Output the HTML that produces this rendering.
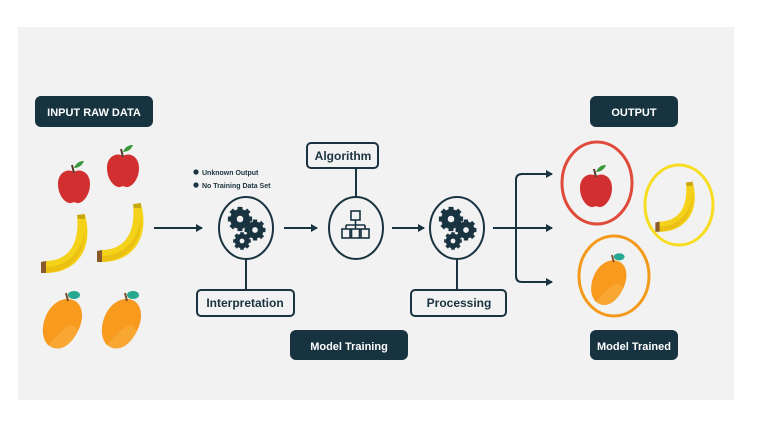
<!DOCTYPE html>
<html><head><meta charset="utf-8"><style>
html,body{margin:0;padding:0;background:#fff;width:760px;height:427px;overflow:hidden}
svg text{font-family:"Liberation Sans",sans-serif;font-weight:bold}
</style></head><body>
<svg width="760" height="427" viewBox="0 0 760 427" xmlns="http://www.w3.org/2000/svg">
<defs>
<marker id="ah" markerWidth="8" markerHeight="8" refX="6" refY="4" orient="auto" markerUnits="userSpaceOnUse"><path d="M0,0 L7,4 L0,8 Z" fill="#1a3340"/></marker>
<g id="apple"><path d="M0,-14 C-6,-18 -16,-14 -16,-2 C-16,10 -8,18 -3,17 C-1,16 1,16 3,17 C8,18 16,10 16,-2 C16,-14 6,-18 0,-14Z" fill="#d23030"/><path d="M0,-13 L-2,-21" stroke="#5a3a2a" stroke-width="2"/><path d="M0,-18 C3,-25 8,-25 10,-25 C8,-20 4,-18 0,-18Z" fill="#3a9a3a"/></g>
<g id="banana"><path d="M15,-30 C24,2 8,28 -24,28 L-25,16 C-2,16 10,0 7,-30Z" fill="#f4d21a"/><path d="M-25,22 C-4,22 12,8 15,-16 C16,6 4,26 -24,28Z" fill="#e8b810" opacity="0.7"/><path d="M7,-30 L15,-31 L15,-26 L8,-26Z" fill="#c8a810"/><path d="M-24,16 L-29,17 L-29,28 L-24,28Z" fill="#8a5a2a"/></g>
<g id="mango"><path d="M-18,22 C-30,10 -20,-22 0,-24 C16,-25 20,-8 12,8 C4,24 -8,30 -18,22Z" fill="#f89a1e"/><path d="M-18,22 C-4,8 6,-6 12,8 C4,24 -8,30 -18,22Z" fill="#f7b040" opacity="0.6"/><path d="M2,-22 L0,-30" stroke="#7a4a2a" stroke-width="2"/><ellipse cx="8" cy="-28" rx="6" ry="4" fill="#27a890"/></g>
<g id="gear"><circle r="6.5" fill="none" stroke="#1a3340" stroke-width="5"/><g stroke="#1a3340" stroke-width="4.5"><path d="M0,-11V11M-11,0H11M-8,-8L8,8M-8,8L8,-8"/></g><circle r="3" fill="#f2f2f2"/></g>
<g id="gears"><use href="#gear" transform="translate(-6,-9) scale(1.1)"/><use href="#gear" transform="translate(9,2) scale(0.95)"/><use href="#gear" transform="translate(-4,13) scale(0.8)"/></g>
</defs>
<rect x="18" y="27" width="716" height="373" fill="#f2f2f2"/>
<g fill="#173340">
<rect x="35" y="96" width="118" height="31" rx="6"/>
<rect x="590" y="96" width="88" height="31" rx="6"/>
<rect x="290" y="330" width="118" height="30" rx="6"/>
<rect x="590" y="330" width="88" height="30" rx="6"/>
</g>
<g fill="#fff" font-size="11" text-anchor="middle">
<text x="94" y="116">INPUT RAW DATA</text>
<text x="634" y="116">OUTPUT</text>
<text x="349" y="350">Model Training</text>
<text x="634" y="350">Model Trained</text>
</g>
<g fill="none" stroke="#1a3340" stroke-width="2">
<rect x="307" y="143" width="71" height="25" rx="4"/>
<rect x="197" y="290" width="97" height="26" rx="4"/>
<rect x="411" y="290" width="95" height="26" rx="4"/>
<ellipse cx="246" cy="228" rx="27" ry="31"/>
<ellipse cx="356" cy="228" rx="27" ry="31"/>
<ellipse cx="457" cy="228" rx="27" ry="31"/>
<path d="M246,259V290M356,168V197M457,259V290"/>
<path d="M154,228H202" marker-end="url(#ah)"/>
<path d="M284,228H317" marker-end="url(#ah)"/>
<path d="M392,228H424" marker-end="url(#ah)"/>
<path d="M493,228H552" marker-end="url(#ah)"/>
<path d="M552,174H522Q516,174 516,180V276Q516,282 522,282H552" marker-end="url(#ah)"/>
<path d="M522,174H552" marker-end="url(#ah)"/>
<rect x="351" y="211" width="9" height="9" stroke-width="1.6"/>
<path d="M355.5,220V225M346,225H365M346,225V229M355.5,225V229M365,225V229" stroke-width="1.6"/>
<rect x="342" y="229" width="8" height="9" stroke-width="1.6"/><rect x="351.5" y="229" width="8" height="9" stroke-width="1.6"/><rect x="361" y="229" width="8" height="9" stroke-width="1.6"/>
</g>
<use href="#gears" transform="translate(246,228)"/>
<use href="#gears" transform="translate(457,228)"/>
<g fill="#1a3340" font-size="12" text-anchor="middle">
<text x="343" y="160">Algorithm</text>
<text x="245" y="307">Interpretation</text>
<text x="459" y="307">Processing</text>
</g>
<g fill="#1a3340" font-size="7">
<circle cx="196" cy="172" r="2.6"/><circle cx="196" cy="185" r="2.6"/>
<text x="202" y="175">Unknown Output</text>
<text x="202" y="188">No Training Data Set</text>
</g>
<use href="#apple" transform="translate(74,186)"/>
<use href="#apple" transform="translate(123,170)"/>
<use href="#banana" transform="translate(70,245)"/>
<use href="#banana" transform="translate(126,234)"/>
<use href="#mango" transform="translate(66,323)"/>
<use href="#mango" transform="translate(125,323)"/>
<g fill="none" stroke-width="3">
<ellipse cx="597" cy="183" rx="35" ry="41" stroke="#e04a3a"/>
<ellipse cx="679" cy="205" rx="34" ry="40" stroke="#f7dc20"/>
<ellipse cx="614" cy="276" rx="35" ry="40" stroke="#f49a1a"/>
</g>
<use href="#apple" transform="translate(596,190)"/>
<use href="#banana" transform="translate(680,208) scale(0.85)"/>
<use href="#mango" transform="translate(612,282) scale(0.9)"/>
</svg>
</body></html>
